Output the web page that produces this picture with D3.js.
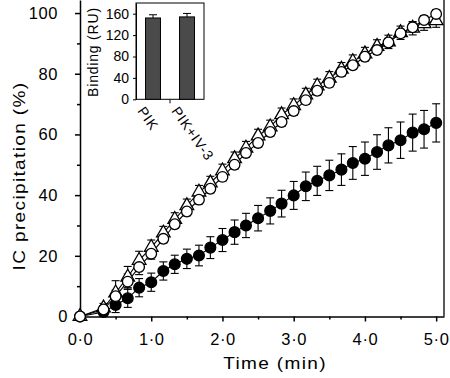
<!DOCTYPE html>
<html>
<head>
  <meta charset="utf-8">
  <title>IC precipitation</title>
  <style>
    body { margin: 0; background: #fff; }
    text { font-family: "Liberation Sans", Arial, sans-serif; fill: #000; }
  </style>
</head>
<body>
<script src="https://cdn.jsdelivr.net/npm/d3@7"></script>
<script>
    // time points (min)
    var times = [0, 0.33, 0.5, 0.67, 0.83, 1.0, 1.17, 1.33, 1.5, 1.67, 1.83, 2.0, 2.17, 2.33, 2.5,
                 2.67, 2.83, 3.0, 3.17, 3.33, 3.5, 3.67, 3.83, 4.0, 4.17, 4.33, 4.5, 4.67, 4.83, 5.0];

    // open circles
    var openCircle = [0, 2.3, 6.7, 11.5, 16.3, 20.7, 25.6, 30.4, 34.6, 38.5, 42.1, 46, 50, 53.9, 57.2,
                      60.8, 64.1, 67.7, 71.3, 74.4, 77, 80.6, 82.8, 85.6, 87.8, 90.3, 93.3, 95.3, 97.7, 99.7];
    var openCircleErr = [0, 1.2, 2, 2.5, 2.5, 1.8, 1.4, 1.4, 1.4, 1.4, 1.4, 1.4, 1.4, 1.4, 1.4,
                         1.4, 1.4, 1.4, 1.4, 1.4, 1.4, 1.4, 1.4, 1.4, 1.4, 1.4, 1.4, 1.4, 1.4, 1.4];

    // open triangles
    var openTriangle = [0, 2.8, 7.8, 13, 18.5, 22.8, 27.5, 32, 36.5, 41, 44, 48, 52, 55.5, 59.5,
                        62.5, 66.5, 69.5, 73, 76, 78.5, 81.5, 84, 86.5, 89, 90.5, 93.5, 95, 96.5, 97.5];
    var openTriangleErr = [0, 1.5, 4, 3.5, 3, 2.4, 2.2, 2.2, 2.2, 2.2, 2.2, 2.2, 2.2, 2.2, 2.2,
                           2.2, 2.2, 2.2, 2.2, 2.2, 2.2, 2.2, 2.2, 2.2, 2.2, 2.2, 2.2, 2.2, 2.2, 2.2];

    // filled circles
    var filledCircle = [0, 1.5, 3.8, 6.0, 9.5, 11.3, 15, 17.2, 19, 20.1, 22.7, 25.2, 27.8, 30, 32.4,
                        34.8, 37.2, 39.9, 42.9, 44.7, 46.5, 48.4, 50.6, 52, 54.2, 56.4, 58.1, 60.6, 61.7, 63.8];
    var filledCircleErr = [0, 1.5, 2.5, 3, 3, 3, 3, 3, 3.2, 3.4, 3.6, 3.8, 4, 4, 4.2,
                           4.3, 4.4, 4.6, 4.7, 4.8, 5, 5.2, 5.4, 5.5, 5.7, 5.8, 6, 6.1, 6.2, 6.3];

    var xTicks = [0, 1, 2, 3, 4, 5];
    var xMinorTicks = [0.5, 1.5, 2.5, 3.5, 4.5];
    var yTicks = [0, 20, 40, 60, 80, 100];
    var yMinorTicks = [10, 30, 50, 70, 90];

    // inset bar chart
    var insetCats = ["PIK", "PIK+IV-3"];
    var insetVals = [152, 154];
    var insetErr = [6, 6.5];
    var insetTicks = [0, 40, 80, 120, 160];

    var svg = d3.select("body").append("svg").attr("width", 450).attr("height", 378);

    var x = d3.scaleLinear().domain([0, 5.11]).range([80, 444]);
    var y = d3.scaleLinear().domain([0, 104.3]).range([316.5, 0]);

    // the original lettering is wider than Arial: stretch to the measured length
    function stretch(sel, k) {
        sel.each(function() {
            var w = this.getComputedTextLength();
            d3.select(this).attr("textLength", w * k).attr("lengthAdjust", "spacingAndGlyphs");
        });
    }
    function fmt(d) { return d3.format(".1f")(d).replace(".", "\u00b7"); }

    // axes
    svg.append("g").attr("transform", "translate(0," + y(0) + ")")
        .call(d3.axisBottom(x).tickValues(xTicks).tickSize(5).tickSizeOuter(0).tickPadding(12).tickFormat(fmt));
    svg.append("g").attr("transform", "translate(0," + y(0) + ")")
        .call(d3.axisBottom(x).tickValues(xMinorTicks).tickSize(3).tickSizeOuter(0).tickFormat(""))
        .select(".domain").remove();

    var yAxis = svg.append("g").attr("transform", "translate(" + x(0) + ",0)")
        .call(d3.axisLeft(y).tickValues(yTicks).tickSize(5).tickSizeOuter(0).tickPadding(17).tickFormat(d3.format("d")));
    svg.append("g").attr("transform", "translate(" + x(0) + ",0)")
        .call(d3.axisLeft(y).tickValues(yMinorTicks).tickSize(3).tickSizeOuter(0).tickFormat(""))
        .select(".domain").remove();

    svg.selectAll(".tick text").attr("font-size", 16.5).attr("font-family", "Liberation Sans, Arial, sans-serif")
        .attr("letter-spacing", 0.6);
    svg.selectAll(".domain, .tick line").attr("stroke", "#000").attr("stroke-width", 1.5);
    // the zero label sits closer to the axis in the original
    yAxis.selectAll(".tick text").filter(function(d) { return d === 0; }).attr("x", -12);

    // right frame
    svg.append("line").attr("x1", x.range()[1]).attr("x2", x.range()[1])
        .attr("y1", 0).attr("y2", y(0)).attr("stroke", "#000").attr("stroke-width", 1.3);

    // axis titles
    svg.append("text").attr("x", 275).attr("y", 369).attr("text-anchor", "middle")
        .attr("font-size", 17).attr("letter-spacing", 1.2).text("Time (min)").call(stretch, 1.12);
    svg.append("text").attr("transform", "translate(25,176) rotate(-90)").attr("text-anchor", "middle")
        .attr("font-size", 17).attr("letter-spacing", 1.2).text("IC precipitation (%)").call(stretch, 1.12);

    // series
    var series = [
        { vals: filledCircle, err: filledCircleErr, shape: "fcircle" },
        { vals: openTriangle, err: openTriangleErr, shape: "triangle" },
        { vals: openCircle, err: openCircleErr, shape: "ocircle" }
    ];

    var line = d3.line().x(function(d) { return x(d[0]); }).y(function(d) { return y(d[1]); });

    series.forEach(function(s) {
        var pts = times.map(function(t, i) { return [t, s.vals[i], s.err[i]]; });
        var eg = svg.append("g").attr("stroke", "#000").attr("stroke-width", 1.1);
        pts.forEach(function(p) {
            if (p[2] <= 0) return;
            var cx = x(p[0]), yt = y(p[1] + p[2]), yb = y(p[1] - p[2]);
            eg.append("line").attr("x1", cx).attr("x2", cx).attr("y1", yt).attr("y2", yb);
            eg.append("line").attr("x1", cx - 4).attr("x2", cx + 4).attr("y1", yt).attr("y2", yt);
            eg.append("line").attr("x1", cx - 4).attr("x2", cx + 4).attr("y1", yb).attr("y2", yb);
        });
        s.pts = pts;
    });

    series.forEach(function(s) {
        svg.append("path").datum(s.pts).attr("fill", "none").attr("stroke", "#000")
            .attr("stroke-width", 1.1).attr("d", line);
    });

    series.forEach(function(s) {
        var g = svg.append("g");
        if (s.shape === "triangle") {
            var tri = d3.symbol().type(d3.symbolTriangle).size(80);
            g.selectAll("path").data(s.pts).enter().append("path")
                .attr("transform", function(d) { return "translate(" + x(d[0]) + "," + y(d[1]) + ")"; })
                .attr("d", tri).attr("fill", "#fff").attr("stroke", "#000").attr("stroke-width", 1.3);
        } else {
            g.selectAll("circle").data(s.pts).enter().append("circle")
                .attr("cx", function(d) { return x(d[0]); })
                .attr("cy", function(d) { return y(d[1]); })
                .attr("r", s.shape === "fcircle" ? 5.4 : 5.3)
                .attr("fill", s.shape === "fcircle" ? "#000" : "#fff")
                .attr("stroke", "#000").attr("stroke-width", 1.3);
        }
    });

    // inset
    var ix = d3.scaleBand().domain(insetCats).range([136, 204]).paddingInner(0.56).paddingOuter(0.28);
    var iy = d3.scaleLinear().domain([0, 180]).range([99.3, 3]);
    var inset = svg.append("g");

    inset.append("rect").attr("x", 136).attr("y", iy(180)).attr("width", 68).attr("height", iy(0) - iy(180))
        .attr("fill", "#fff").attr("stroke", "#000").attr("stroke-width", 1);

    inset.selectAll(".bar").data(insetVals).enter().append("rect")
        .attr("x", function(d, i) { return ix(insetCats[i]); })
        .attr("y", function(d) { return iy(d); })
        .attr("width", ix.bandwidth())
        .attr("height", function(d) { return iy(0) - iy(d); })
        .attr("fill", "#4a4a4a").attr("stroke", "#000").attr("stroke-width", 1);

    insetVals.forEach(function(v, i) {
        var cx = ix(insetCats[i]) + ix.bandwidth() / 2;
        inset.append("line").attr("x1", cx).attr("x2", cx).attr("y1", iy(v)).attr("y2", iy(v + insetErr[i]))
            .attr("stroke", "#000").attr("stroke-width", 1);
        inset.append("line").attr("x1", cx - 4).attr("x2", cx + 4)
            .attr("y1", iy(v + insetErr[i])).attr("y2", iy(v + insetErr[i]))
            .attr("stroke", "#000").attr("stroke-width", 1);
    });

    var iyAxis = inset.append("g").attr("transform", "translate(136,0)")
        .call(d3.axisLeft(iy).tickValues(insetTicks).tickSize(3).tickSizeOuter(0).tickPadding(4));
    iyAxis.selectAll("text").attr("font-size", 14).attr("font-family", "Liberation Sans, Arial, sans-serif");
    iyAxis.selectAll(".domain, .tick line").attr("stroke", "#000");

    var mid = (ix(insetCats[0]) + ix.bandwidth() + ix(insetCats[1])) / 2;
    inset.append("line").attr("x1", mid).attr("x2", mid).attr("y1", iy(0)).attr("y2", iy(0) + 4)
        .attr("stroke", "#000").attr("stroke-width", 1);

    inset.selectAll(".cat").data(insetCats).enter().append("text")
        .attr("transform", function(d) {
            return "translate(" + (ix(d) + ix.bandwidth() / 2 - 16) + ",111) rotate(55)";
        })
        .attr("font-size", 14).attr("letter-spacing", 0.8).text(function(d) { return d; });

    inset.append("text").attr("transform", "translate(98,52) rotate(-90)").attr("text-anchor", "middle")
        .attr("font-size", 14).attr("letter-spacing", 0.8).text("Binding (RU)");
</script>
</body>
</html>
